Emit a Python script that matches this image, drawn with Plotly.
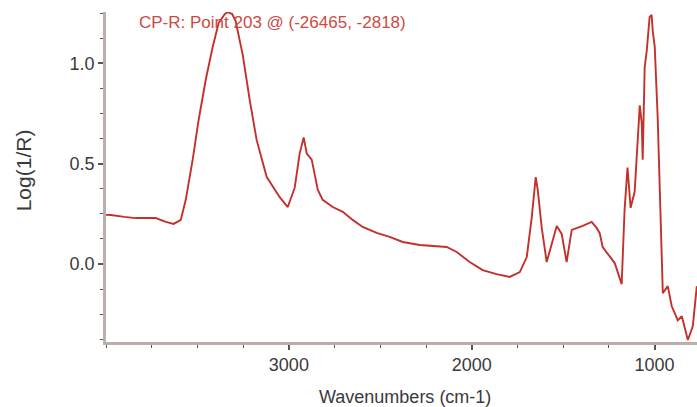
import plotly.graph_objects as go

wavenumber = [4000, 3974, 3900, 3838, 3728, 3673, 3630, 3591, 3564, 3526, 3493, 3455, 3417, 3384,
              3350, 3334, 3310, 3291, 3252, 3214, 3176, 3121, 3050, 3006, 2968, 2941, 2919, 2902,
              2875, 2859, 2842, 2815, 2760, 2705, 2651, 2596, 2520, 2449, 2377, 2284, 2192, 2137,
              2082, 2011, 1940, 1864, 1792, 1737, 1699, 1672, 1650, 1639, 1617, 1590, 1535, 1508,
              1481, 1453, 1393, 1344, 1317, 1300, 1284, 1245, 1218, 1180, 1164, 1148, 1131, 1109,
              1098, 1081, 1070, 1065, 1054, 1043, 1027, 1016, 1010, 999, 983, 972, 961, 955, 928,
              906, 873, 851, 818, 791, 769]
log_1_r = [0.245, 0.244, 0.235, 0.229, 0.229, 0.21, 0.20, 0.22, 0.32, 0.52, 0.72, 0.915, 1.08, 1.20,
           1.245, 1.254, 1.245, 1.21, 1.04, 0.816, 0.617, 0.433, 0.333, 0.284, 0.38, 0.55, 0.63, 0.55,
           0.52, 0.45, 0.37, 0.32, 0.284, 0.26, 0.22, 0.185, 0.155, 0.135, 0.11, 0.095, 0.09, 0.085,
           0.06, 0.01, -0.03, -0.05, -0.064, -0.04, 0.035, 0.23, 0.433, 0.37, 0.18, 0.01, 0.19, 0.15,
           0.01, 0.17, 0.19, 0.21, 0.18, 0.154, 0.085, 0.035, 0.005, -0.10, 0.27, 0.48, 0.28, 0.36,
           0.52, 0.79, 0.70, 0.52, 0.98, 1.06, 1.23, 1.24, 1.16, 1.08, 0.73, 0.38, -0.015, -0.145, -0.11,
           -0.21, -0.28, -0.26, -0.378, -0.31, -0.11]

x_ticks = [1000, 2000, 3000]
x_tick_labels = ["1000", "2000", "3000"]
y_ticks = [0.0, 0.5, 1.0]
y_tick_labels = ["0.0", "0.5", "1.0"]

title_text = "CP-R: Point 203 @ (-26465, -2818)"
x_title = "Wavenumbers (cm-1)"
y_title = "Log(1/R)"

FONT = "Liberation Sans, Arial, sans-serif"
AXIS = "#bcaeab"
TICK = "#555555"

fig = go.Figure()
fig.add_trace(go.Scatter(x=wavenumber, y=log_1_r, mode="lines",
                         line=dict(color="#c4302b", width=1.9), hoverinfo="skip"))

fig.update_layout(
    width=697, height=407,
    margin=dict(l=106, r=0, t=12, b=65),
    paper_bgcolor="white", plot_bgcolor="white",
    showlegend=False,
    font=dict(family=FONT, size=18, color="#3a3a3a"),
    xaxis=dict(range=[4000, 768], showgrid=False, zeroline=False,
               showline=True, linecolor=AXIS, linewidth=2.5,
               tickmode="array", tickvals=x_ticks, ticktext=x_tick_labels,
               ticks="outside", ticklen=5, tickwidth=1.5, tickcolor=TICK,
               minor=dict(dtick=250, tick0=0, ticks="outside", ticklen=3, tickwidth=1.2, tickcolor=TICK)),
    yaxis=dict(range=[-0.388, 1.255], showgrid=False, zeroline=False,
               showline=True, linecolor=AXIS, linewidth=2.5,
               tickmode="array", tickvals=y_ticks, ticktext=y_tick_labels,
               ticks="outside", ticklen=5, tickwidth=1.5, tickcolor=TICK,
               minor=dict(dtick=0.125, tick0=0, ticks="outside", ticklen=3, tickwidth=1.2, tickcolor=TICK)),
    annotations=[
        dict(text=title_text, xref="paper", yref="paper", x=0.052, y=0.967,
             xanchor="left", yanchor="middle", showarrow=False,
             font=dict(family=FONT, size=17, color="#cc4a44")),
        dict(text=x_title, xref="paper", yref="paper", x=0.506, y=-0.167,
             xanchor="center", yanchor="middle", showarrow=False,
             font=dict(family=FONT, size=18, color="#3a3a3a")),
        dict(text=y_title, xref="paper", yref="paper", x=-0.140, y=0.521,
             xanchor="center", yanchor="middle", showarrow=False, textangle=-90,
             font=dict(family=FONT, size=21, color="#3a3a3a")),
    ],
)

fig.write_html("out.html", config={"displayModeBar": False},
               post_script="document.body.style.margin='0';document.body.style.overflow='hidden';")
